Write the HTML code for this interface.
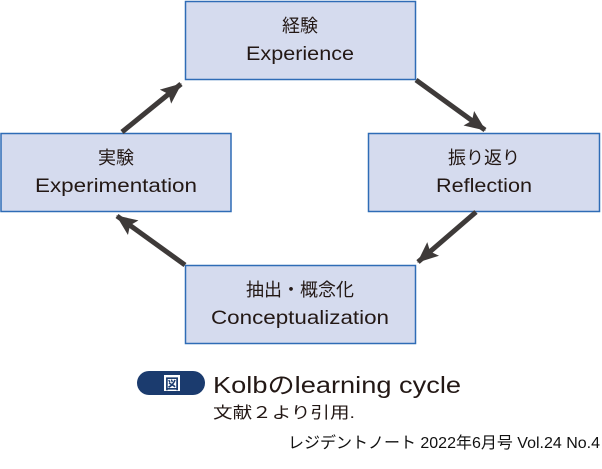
<!DOCTYPE html>
<html><head><meta charset="utf-8"><style>
body{margin:0;background:#fff;width:602px;height:464px;overflow:hidden}
</style></head><body>
<svg width="602" height="464" xmlns="http://www.w3.org/2000/svg" style="font-family:'Liberation Sans','Noto Sans CJK JP',sans-serif">
<defs><marker id="a" markerWidth="22" markerHeight="20" refX="20" refY="10" orient="auto" markerUnits="userSpaceOnUse"><path d="M0,1 L21,10 L0,19 L4,10 Z" fill="#3e3a39"/></marker></defs>
<g fill="#d5dbee" stroke="#2f6cb6" stroke-width="1.5">
<rect x="185.5" y="1.5" width="230" height="78"/>
<rect x="1" y="133.5" width="230" height="78"/>
<rect x="368.5" y="133.5" width="231" height="78"/>
<rect x="185.5" y="265.5" width="230" height="78"/>
</g>
<g stroke="#3e3a39" stroke-width="5" marker-end="url(#a)" fill="none">
<line x1="122" y1="132" x2="181" y2="84"/>
<line x1="416" y1="80" x2="485" y2="130"/>
<line x1="476" y1="212" x2="418" y2="262"/>
<line x1="185" y1="265" x2="117" y2="216"/>
</g>
<g fill="#231815" font-size="19" text-anchor="middle">
<text x="300" y="32" font-size="18">経験</text><text x="300" y="60" textLength="108" lengthAdjust="spacingAndGlyphs">Experience</text>
<text x="116" y="164" font-size="18">実験</text><text x="116" y="192" textLength="162" lengthAdjust="spacingAndGlyphs">Experimentation</text>
<text x="484" y="164" font-size="18">振り返り</text><text x="484" y="192" textLength="96" lengthAdjust="spacingAndGlyphs">Reflection</text>
<text x="300" y="296" font-size="18">抽出・概念化</text><text x="300" y="324" textLength="178" lengthAdjust="spacingAndGlyphs">Conceptualization</text>
</g>
<rect x="137" y="371" width="68" height="24" rx="12" fill="#1b3b6e"/>
<rect x="164" y="375" width="16" height="16" fill="#fff"/>
<text x="172" y="389" font-size="14" fill="#1b3b6e" text-anchor="middle" font-family="'Noto Sans CJK JP',sans-serif" font-weight="bold">図</text>
<text x="213" y="393" font-size="23" fill="#231815" textLength="248" lengthAdjust="spacingAndGlyphs">Kolbのlearning cycle</text>
<text x="213" y="418" font-size="16" fill="#231815" textLength="142" lengthAdjust="spacingAndGlyphs">文献２より引用.</text>
<text x="288" y="448" font-size="16" fill="#111" textLength="312" lengthAdjust="spacingAndGlyphs">レジデントノート 2022年6月号 Vol.24 No.4</text>
</svg>
</body></html>
